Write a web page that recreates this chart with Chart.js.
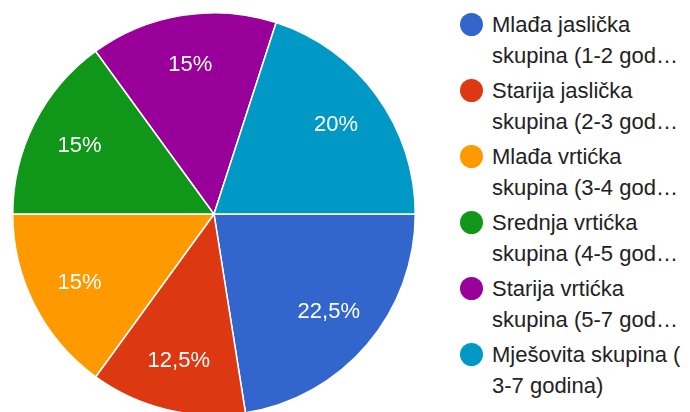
<!DOCTYPE html>
<html>
<head>
<meta charset="utf-8">
<script src="https://cdn.jsdelivr.net/npm/chart.js@4.4.1/dist/chart.umd.min.js"></script>
<style>
  html, body { margin: 0; padding: 0; background: #fff; overflow: hidden; }
  body { width: 690px; height: 412px; position: relative; font-family: "Liberation Sans", Arial, sans-serif; }
  #wrap { position: absolute; left: 0; top: 0; width: 428px; height: 428px; }
  #legend { position: absolute; left: 0; top: 0; }
  .item { position: absolute; left: 460px; }
  .dot { position: absolute; left: 0; top: 4px; width: 23px; height: 23px; border-radius: 50%; }
  .txt { position: absolute; left: 32px; top: 0; font-size: 22px; line-height: 31px; color: #222; white-space: nowrap; }
</style>
</head>
<body>
<div id="wrap"><canvas id="pie"></canvas></div>
<div id="legend"></div>
<script>
// Categories and shares (percent of answers)
const categories = [
  "Mlađa jaslička skupina (1-2 godine)",
  "Starija jaslička skupina (2-3 godine)",
  "Mlađa vrtićka skupina (3-4 godine)",
  "Srednja vrtićka skupina (4-5 godina)",
  "Starija vrtićka skupina (5-7 godina)",
  "Mješovita skupina ( 3-7 godina)",
];
const shares = [22.5, 12.5, 15, 15, 15, 20];
const colors = ["#3366cc", "#dc3912", "#ff9900", "#109618", "#990099", "#0099c6"];

const FONT = "22px 'Liberation Sans'";

// wrap legend text into 2 lines, last line cut with an ellipsis
function wrapLabel(text, wrapWidth, cutWidth) {
  const ctx = document.createElement("canvas").getContext("2d");
  ctx.font = FONT;
  const words = text.split(" ");
  const lines = [];
  let cur = "";
  words.forEach((w) => {
    const test = cur ? cur + " " + w : w;
    if (ctx.measureText(test).width > wrapWidth && cur) {
      lines.push(cur);
      cur = w;
    } else {
      cur = test;
    }
  });
  lines.push(cur);
  if (lines.length <= 2) return lines;
  let second = lines.slice(1).join(" ");
  while (ctx.measureText(second + "…").width > cutWidth && second.length > 0) {
    second = second.slice(0, -1);
  }
  return [lines[0], second.trimEnd() + "…"];
}

function renderLegend() {
  const legend = document.getElementById("legend");
  categories.forEach((cat, i) => {
    const item = document.createElement("div");
    item.className = "item";
    item.style.top = (9 + i * 66) + "px";
    const dot = document.createElement("div");
    dot.className = "dot";
    dot.style.background = colors[i];
    const txt = document.createElement("div");
    txt.className = "txt";
    txt.innerHTML = wrapLabel(cat, 192, 188).join("<br>");
    item.appendChild(dot);
    item.appendChild(txt);
    legend.appendChild(item);
  });
}

// draws percentage labels inside the slices
const sliceLabels = {
  id: "sliceLabels",
  afterDatasetsDraw(chart) {
    const ctx = chart.ctx;
    const meta = chart.getDatasetMeta(0);
    ctx.save();
    ctx.font = FONT;
    ctx.fillStyle = "#fff";
    ctx.textAlign = "center";
    ctx.textBaseline = "middle";
    meta.data.forEach((arc, i) => {
      const mid = (arc.startAngle + arc.endAngle) / 2;
      const r = arc.outerRadius * 0.75;
      const label = String(shares[i]).replace(".", ",") + "%";
      ctx.fillText(label, arc.x + Math.cos(mid) * r, arc.y + Math.sin(mid) * r);
    });
    ctx.restore();
  },
};

function initChart() {
  new Chart(document.getElementById("pie"), {
    type: "pie",
    data: {
      labels: categories,
      datasets: [
        {
          data: shares,
          backgroundColor: colors,
          borderColor: "#fff",
          borderWidth: 1.5,
        },
      ],
    },
    options: {
      responsive: true,
      maintainAspectRatio: false,
      animation: false,
      rotation: 90,
      layout: { padding: 12 },
      plugins: {
        legend: { display: false },
        tooltip: { enabled: false },
      },
    },
    plugins: [sliceLabels],
  });
}

renderLegend();
initChart();
</script>
</body>
</html>
